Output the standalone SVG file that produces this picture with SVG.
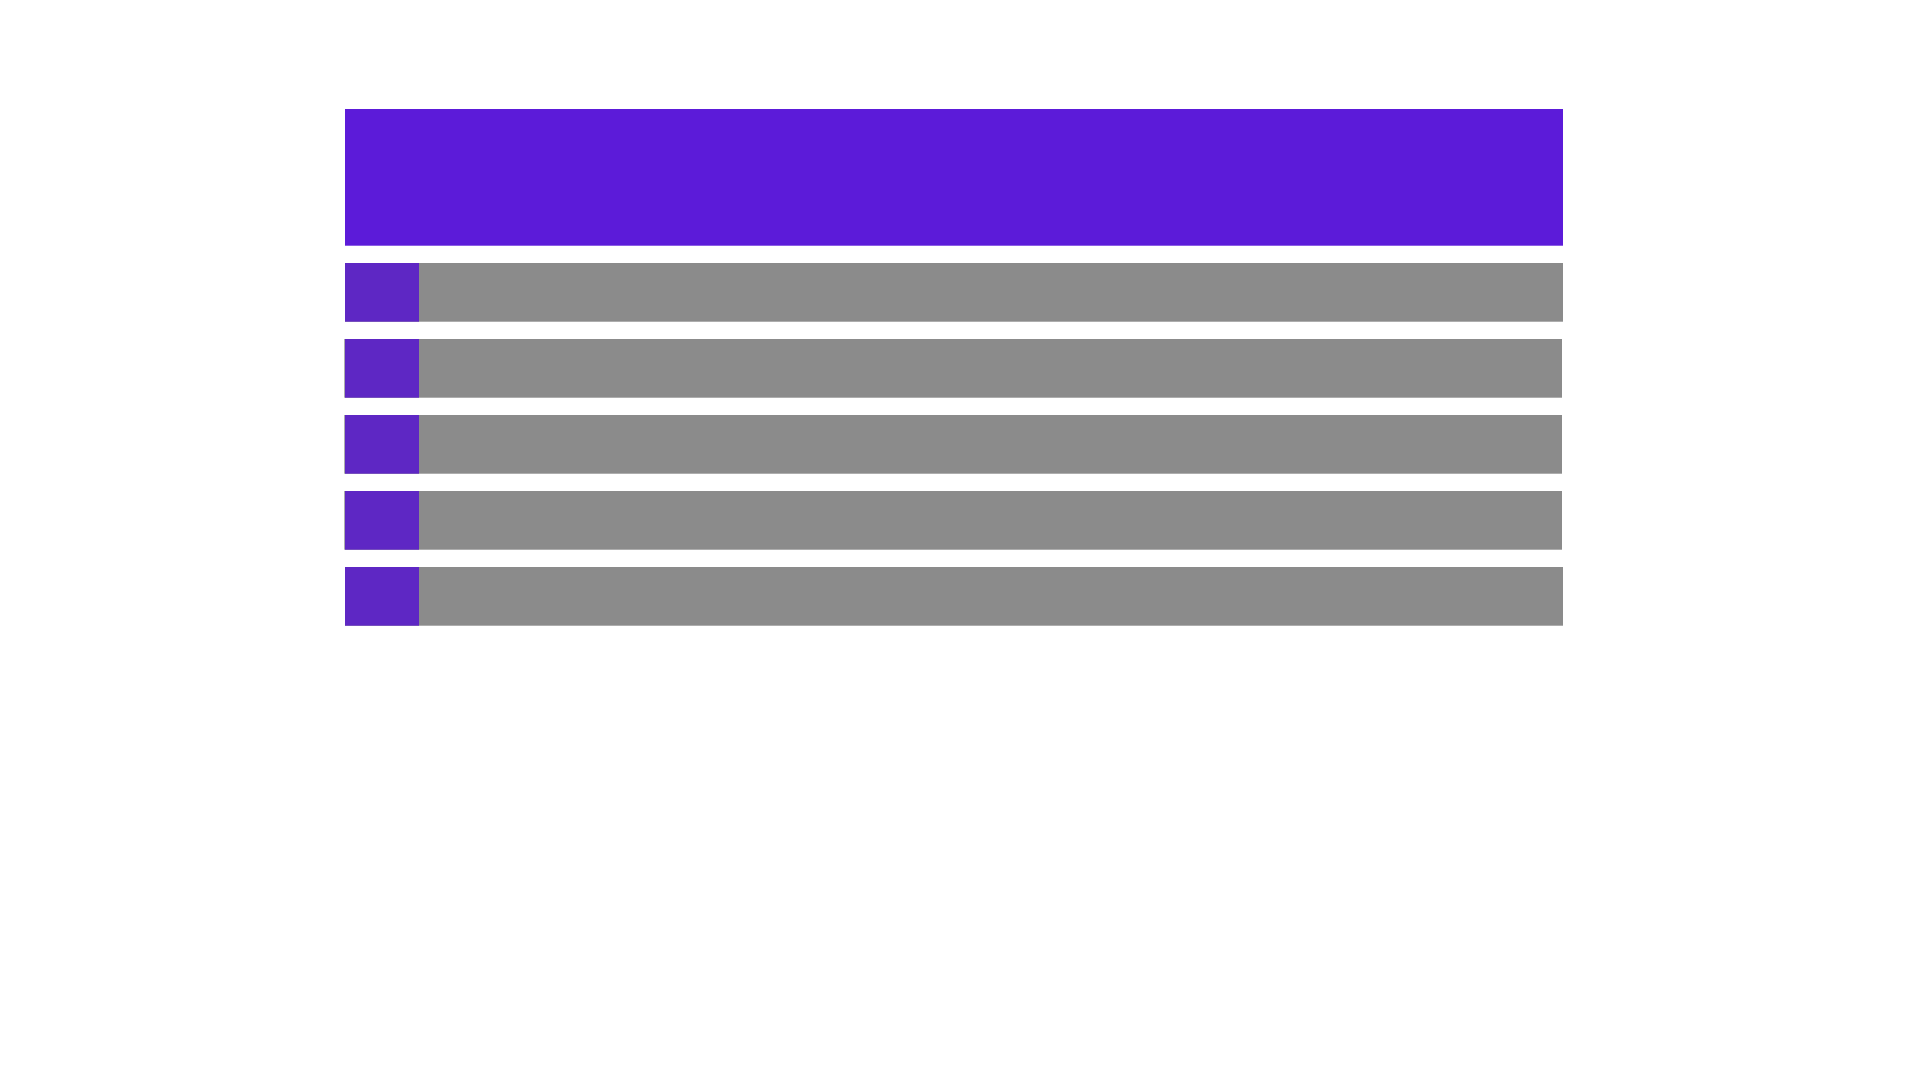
<svg xmlns="http://www.w3.org/2000/svg" width="1920" height="1080" viewBox="0 0 1920 1080">
<style>
.hdr{fill:#5c1bd9}
.bar{fill:#8b8b8b}
.tab{fill:#5e27c4}
</style>
<rect width="1920" height="1080" fill="#ffffff"/>
<g id="header"><rect class="hdr" x="345" y="109" width="1218" height="136.7"/></g>
<g id="row1"><rect class="bar" x="345" y="263" width="1218" height="58.7"/><rect class="tab" x="345" y="263" width="74" height="58.7"/></g>
<g id="row2"><rect class="bar" x="344.3" y="339" width="1217.7" height="58.7"/><rect class="tab" x="345" y="339" width="74" height="58.7"/></g>
<g id="row3"><rect class="bar" x="344.3" y="415" width="1217.7" height="58.7"/><rect class="tab" x="345" y="415" width="74" height="58.7"/></g>
<g id="row4"><rect class="bar" x="344.3" y="491" width="1217.7" height="58.7"/><rect class="tab" x="345" y="491" width="74" height="58.7"/></g>
<g id="row5"><rect class="bar" x="345" y="567" width="1218" height="58.7"/><rect class="tab" x="345" y="567" width="74" height="58.7"/></g>
<g id="connectors"></g>
</svg>
